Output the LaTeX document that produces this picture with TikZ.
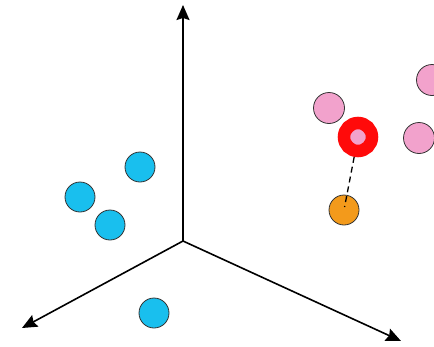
\documentclass[tikz,border=0pt]{standalone}
\usepackage{xcolor}
\usepackage{tikz}
\usetikzlibrary{arrows.meta}

\definecolor{dotblue}{HTML}{19BFEE}
\definecolor{dotpink}{HTML}{F2A2CC}
\definecolor{dotorange}{HTML}{F39A1B}
\definecolor{dotred}{HTML}{FF0A0A}

\begin{document}
\begin{tikzpicture}[
  x=1pt, y=-1pt,
  dot/.style={circle, draw=black!80, line width=0.8pt, inner sep=0pt, minimum size=30pt},
  bluedot/.style={dot, fill=dotblue},
  pinkdot/.style={dot, fill=dotpink, minimum size=31pt},
  orangedot/.style={dot, fill=dotorange},
  querydot/.style={circle, draw=dotred, line width=12.5pt, fill=dotpink, inner sep=0pt, minimum size=28pt},
  axis/.style={  % the three axes
            draw,
            -{Stealth[length=15pt,width=13pt,inset=2pt]},  % filled arrow heads
            line width=1.6pt}
]
  \useasboundingbox (0,0) rectangle (434,346);
  \clip (0,0) rectangle (434,346);

  % axes
  \coordinate (O) at (183,241);
  \coordinate (up) at (183,5);
  \coordinate (lft) at (22,328);
  \coordinate (rgt) at (401,341);
  \draw[axis] (O) -- (up);
  \draw[axis] (O) -- (lft);
  \draw[axis] (O) -- (rgt);

  % blue class
  \node[bluedot] (b1) at (140,167) {};
  \node[bluedot] (b2) at (80,197) {};
  \node[bluedot] (b3) at (110,225) {};
  \node[bluedot] (b4) at (154,313) {};

  % pink class
  \node[pinkdot] (p1) at (329,108) {};
  \node[pinkdot] (p2) at (432,80) {};
  \node[pinkdot] (p3) at (419,138) {};

  % query point and its neighbour
  \node[orangedot] (q) at (344,210) {};
  \node[querydot] (x) at (358,137) {};
  \draw[line width=1.3pt, dash pattern=on 6pt off 4pt, shorten >=3pt] (x) -- (q.center);
\end{tikzpicture}
\end{document}
